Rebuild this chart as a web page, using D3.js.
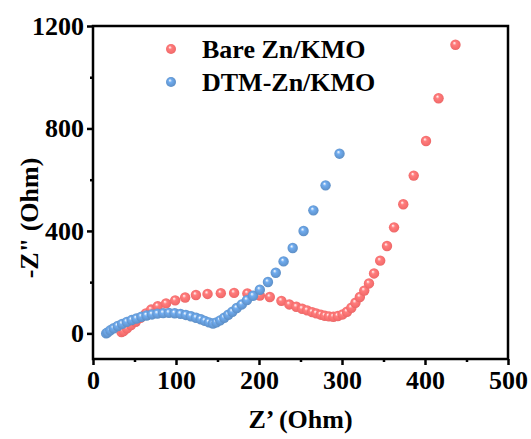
<!DOCTYPE html>
<html>
<head>
<meta charset="utf-8">
<script src="https://cdn.jsdelivr.net/npm/d3@7"></script>
<style>
  body { margin: 0; background: #fff; }
  text { font-family: "Liberation Serif", "Times New Roman", serif; font-weight: bold; }
</style>
</head>
<body>
<div id="chart"></div>
<script>
// data (Z' in ohm, -Z'' in ohm)
var bareX = [34.3, 36.8, 40.9, 45.8, 51.5, 57.2, 63.7, 70, 78, 88, 99, 111, 124, 138, 154, 170, 186, 201,
    213, 227, 236.5, 245, 252, 258, 264, 269, 274.5, 279.4, 284.3, 289.6, 295, 300.7, 306, 311.3, 316.2,
    321.5, 326.8, 332.5, 338.6, 346, 354.2, 362.7, 373.8, 386.4, 401.2, 416.3, 436.7];
var bareY = [5, 9, 19.5, 32.5, 45.5, 61, 78, 93, 106, 117, 129, 140, 150, 154, 157, 158, 156, 148,
    142, 127, 113, 104, 96, 90, 83, 78, 73, 69, 66.4, 65, 67.7, 74, 84.6, 100, 119.7,
    142, 167, 195, 234, 284, 341, 414, 504, 616, 751, 918, 1127];

var dtmX = [15.9, 17.6, 20.8, 24.9, 29.8, 35.1, 40.8, 46.6, 52.3, 58.4, 64.5, 71.1, 77.6, 84.6, 91.5,
    98.4, 105.4, 111.9, 118, 124.2, 129.9, 134.8, 139.7, 144.6, 148.7, 153.2, 158.1, 163, 167.9, 173.2,
    179.3, 185.5, 192.8, 201, 210.8, 220.2, 229.6, 240.6, 253.7, 265.5, 280.2, 297];
var dtmY = [0, 4, 12, 20, 29, 37, 45, 52, 58, 65, 70, 74, 77, 79, 80,
    78.5, 76, 72, 67, 61, 55, 49, 43, 38.5, 42.9, 50.8, 61.2, 72.9, 84.6, 98.9,
    113, 130, 147, 170.5, 200.4, 236.9, 281.1, 333.2, 399.6, 480.3, 577.9, 701.5];

var seriesNames = ["Bare Zn/KMO", "DTM-Zn/KMO"];
var seriesColors = ["#f46c6c", "#6195cf"];

var xTicks = [0, 100, 200, 300, 400, 500];
var xMinor = [50, 150, 250, 350, 450];
var yTicks = [0, 400, 800, 1200];
var yMinor = [200, 600, 1000];

var width = 531, height = 439;
var margin = {left: 93, right: 23, top: 26, bottom: 80};

var svg = d3.select('#chart').append('svg')
    .attr('width', width)
    .attr('height', height);

var x = d3.scaleLinear().domain([0, 500]).range([margin.left, width - margin.right]);
var y = d3.scaleLinear().domain([-100, 1200]).range([height - margin.bottom, margin.top]);

// sphere gradients
var defs = svg.append('defs');
seriesColors.forEach(function(c, i) {
    var g = defs.append('radialGradient')
        .attr('id', 'ball' + i)
        .attr('cx', '50%').attr('cy', '50%').attr('r', '60%')
        .attr('fx', '38%').attr('fy', '32%');
    g.append('stop').attr('offset', '0%').attr('stop-color', '#ffffff');
    g.append('stop').attr('offset', '30%').attr('stop-color', d3.color(c).brighter(0.4));
    g.append('stop').attr('offset', '75%').attr('stop-color', c);
    g.append('stop').attr('offset', '100%').attr('stop-color', d3.color(c).darker(0.3));
});

// frame
var plotBottom = height - margin.bottom;
svg.append('rect')
    .attr('x', margin.left).attr('y', margin.top)
    .attr('width', width - margin.right - margin.left)
    .attr('height', plotBottom - margin.top)
    .attr('fill', 'none')
    .attr('stroke', '#000')
    .attr('stroke-width', 2.5);

// axes
svg.append('g')
    .attr('transform', 'translate(0,' + plotBottom + ')')
    .call(d3.axisBottom(x).tickValues(xTicks).tickSize(6).tickPadding(6).tickFormat(d3.format('d')));
svg.append('g')
    .attr('transform', 'translate(0,' + plotBottom + ')')
    .call(d3.axisBottom(x).tickValues(xMinor).tickSize(3).tickFormat(''));

svg.append('g')
    .attr('transform', 'translate(' + margin.left + ',0)')
    .call(d3.axisLeft(y).tickValues(yTicks).tickSize(6).tickPadding(3).tickFormat(d3.format('d')));
svg.append('g')
    .attr('transform', 'translate(' + margin.left + ',0)')
    .call(d3.axisLeft(y).tickValues(yMinor).tickSize(3).tickFormat(''));

svg.selectAll('.domain').remove();
svg.selectAll('.tick line').attr('stroke', '#000').attr('stroke-width', 2.5);
svg.selectAll('.tick text')
    .attr('fill', '#000')
    .style('font-size', '26px')
    .style('font-family', '"Liberation Serif", serif')
    .style('font-weight', 'bold');

// axis titles
svg.append('text')
    .attr('x', (margin.left + width - margin.right) / 2)
    .attr('y', 428)
    .attr('text-anchor', 'middle')
    .style('font-size', '26px')
    .text('Z\u2019 (Ohm)');

svg.append('text')
    .attr('transform', 'translate(38,218) rotate(-90)')
    .attr('text-anchor', 'middle')
    .style('font-size', '26px')
    .text('-Z" (Ohm)');

// points
function drawSeries(xs, ys, i) {
    var pts = xs.map(function(d, k) { return {x: d, y: ys[k]}; });
    svg.append('g').selectAll('circle')
        .data(pts)
        .enter().append('circle')
        .attr('cx', function(d) { return x(d.x); })
        .attr('cy', function(d) { return y(d.y); })
        .attr('r', 5.2)
        .attr('fill', 'url(#ball' + i + ')');
}
drawSeries(bareX, bareY, 0);
drawSeries(dtmX, dtmY, 1);

// legend
var legend = svg.append('g');
seriesNames.forEach(function(name, i) {
    var ly = 49 + i * 33;
    legend.append('circle')
        .attr('cx', 171).attr('cy', ly)
        .attr('r', 5)
        .attr('fill', 'url(#ball' + i + ')');
    legend.append('text')
        .attr('x', 202).attr('y', ly + 9)
        .style('font-size', '26px')
        .text(name);
});
</script>
</body>
</html>
